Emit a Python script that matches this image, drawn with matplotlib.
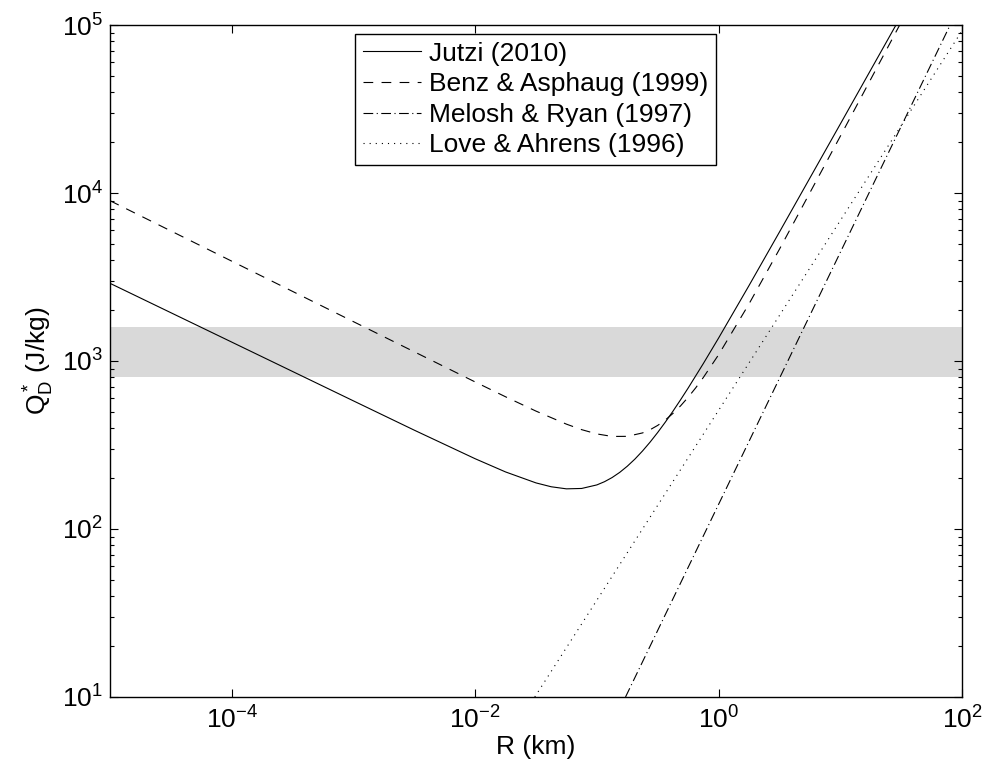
import numpy as np
import matplotlib
matplotlib.use("Agg")
from matplotlib import pyplot as plt
from matplotlib.ticker import LogLocator, FixedLocator, NullLocator, NullFormatter

plt.rcParams['font.family'] = ['Liberation Sans', 'DejaVu Sans']
plt.rcParams['mathtext.fontset'] = 'custom'
plt.rcParams['mathtext.rm'] = 'Liberation Sans'
plt.rcParams['mathtext.it'] = 'Liberation Sans'
plt.rcParams['mathtext.default'] = 'regular'
plt.rcParams['lines.scale_dashes'] = False

# curves (R in km, Q*D in J/kg)
jutzi_r = [1e-5, 1e-4, 1e-3, 3.162e-3, 1e-2, 1.778e-2, 3.162e-2, 4.217e-2, 5.623e-2, 7.499e-2,
           0.1, 0.1155, 0.1334, 0.1540, 0.1778, 0.2054, 0.2371, 0.2738, 0.3162, 0.3652,
           0.4217, 0.4870, 0.5623, 0.7499, 1.0, 1.778, 3.162, 10.0, 31.62]
jutzi_q = [2900, 1296, 579, 387.5, 262, 218.6, 188.1, 178.4, 173.4, 174.3,
           183.0, 191.2, 202.4, 217.2, 236.4, 260.7, 291.2, 329.0, 375.6, 432.7,
           502.3, 587.4, 690.1, 966.3, 1369, 2811, 5854, 25720, 113400]

benz_r = [1e-5, 1e-4, 1e-3, 1e-2, 1.778e-2, 3.162e-2, 5.623e-2, 7.499e-2, 0.1, 0.1334,
          0.1778, 0.2371, 0.2738, 0.3162, 0.3652, 0.4217, 0.4870, 0.5623, 0.6494, 0.7499,
          1.0, 1.778, 3.162, 10.0, 31.62]
benz_q = [9000, 3929, 1715, 750.4, 612.3, 503.2, 420.9, 390.3, 368.1, 355.6,
          356.0, 373.1, 389.9, 413.7, 445.5, 487.3, 540.5, 608.2, 692.7, 798.1,
          1089, 2186, 4625, 21750, 103800]

melosh_r = [0.172, 100.0]
melosh_q = [10.0, 1.4e5]

love_r = [0.0309, 100.0]
love_q = [10.0, 92400.0]

band = [800, 1600]

labels = ['Jutzi (2010)', 'Benz & Asphaug (1999)', 'Melosh & Ryan (1997)', 'Love & Ahrens (1996)']

fs = 19

fig = plt.figure(figsize=(9.82, 7.69), dpi=100)
ax = fig.add_axes([110/982, 1 - 697/769, 852/982, 672/769])

ax.axhspan(band[0], band[1], color='#d9d9d9', lw=0, zorder=0)

lw = 0.8
ax.plot(jutzi_r, jutzi_q, color='k', lw=lw, label=labels[0])
ax.plot(benz_r, benz_q, color='k', lw=lw, dashes=(7, 6), label=labels[1])
ax.plot(melosh_r, melosh_q, color='k', lw=lw, dashes=(7, 2.5, 0.8, 2.5), label=labels[2])
ax.plot(love_r, love_q, color='k', lw=lw, dashes=(0.8, 3.6), label=labels[3])

ax.set_xscale('log')
ax.set_yscale('log')
ax.set_xlim(1e-5, 1e2)
ax.set_ylim(1e1, 1e5)

ax.xaxis.set_major_locator(FixedLocator([1e-4, 1e-2, 1e0, 1e2]))
ax.xaxis.set_minor_locator(NullLocator())
ax.yaxis.set_major_locator(LogLocator(base=10))
ax.yaxis.set_minor_locator(LogLocator(base=10, subs=np.arange(2, 10)))
ax.yaxis.set_minor_formatter(NullFormatter())

ax.tick_params(which='both', direction='in', top=True, right=True, labelsize=fs, width=0.8)
ax.tick_params(which='major', length=6, pad=7)
ax.tick_params(which='minor', length=3)
ax.tick_params(axis='y', which='major', pad=5)
for s in ax.spines.values():
    s.set_linewidth(1.0)

ax.set_xlabel('R (km)', fontsize=fs, labelpad=1)
ax.set_ylabel(r'$Q^*_D$ (J/kg)', fontsize=fs, labelpad=4)

leg = ax.legend(loc='upper center', bbox_to_anchor=(0.499, 0.987), fontsize=fs,
                frameon=True, fancybox=False, edgecolor='k', framealpha=1,
                handlelength=2.2, handletextpad=0.3, labelspacing=0.25,
                borderpad=0.3, borderaxespad=0)
leg.get_frame().set_linewidth(1.0)

fig.savefig('out.png', dpi=100)
